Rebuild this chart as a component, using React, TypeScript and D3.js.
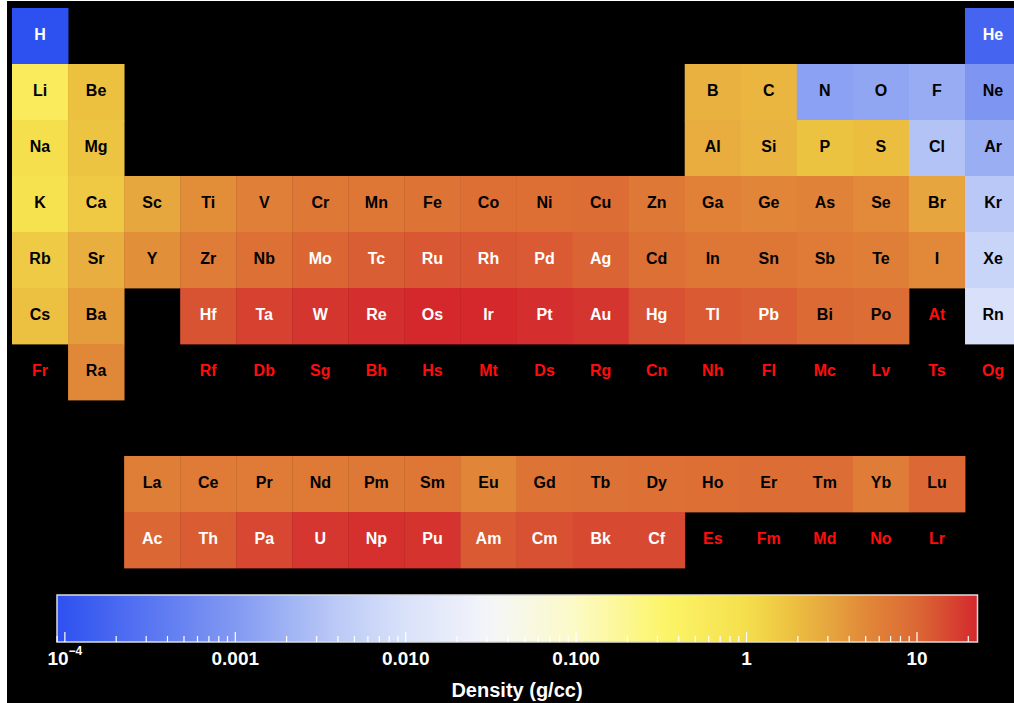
import React from "react";
import * as d3 from "d3";

// ---------- DATA ----------
const SYMBOLS = [
  "H","He","Li","Be","B","C","N","O","F","Ne","Na","Mg","Al","Si","P","S","Cl","Ar",
  "K","Ca","Sc","Ti","V","Cr","Mn","Fe","Co","Ni","Cu","Zn","Ga","Ge","As","Se","Br","Kr",
  "Rb","Sr","Y","Zr","Nb","Mo","Tc","Ru","Rh","Pd","Ag","Cd","In","Sn","Sb","Te","I","Xe",
  "Cs","Ba","La","Ce","Pr","Nd","Pm","Sm","Eu","Gd","Tb","Dy","Ho","Er","Tm","Yb","Lu",
  "Hf","Ta","W","Re","Os","Ir","Pt","Au","Hg","Tl","Pb","Bi","Po","At","Rn",
  "Fr","Ra","Ac","Th","Pa","U","Np","Pu","Am","Cm","Bk","Cf","Es","Fm","Md","No","Lr",
  "Rf","Db","Sg","Bh","Hs","Mt","Ds","Rg","Cn","Nh","Fl","Mc","Lv","Ts","Og",
];

// density in g/cc (null = unknown)
const DENSITIES: (number | null)[] = [
  0.0000899, 0.0001785, 0.535, 1.848, 2.46, 2.26, 0.001251, 0.001429, 0.001696, 0.0009,
  0.968, 1.738, 2.7, 2.33, 1.823, 1.96, 0.003214, 0.001784,
  0.856, 1.55, 2.985, 4.507, 6.11, 7.19, 7.47, 7.874, 8.9, 8.908, 8.96, 7.14, 5.904, 5.323, 5.727, 4.819, 3.12, 0.00375,
  1.532, 2.63, 4.472, 6.511, 8.57, 10.28, 11.5, 12.37, 12.45, 12.023, 10.49, 8.65, 7.31, 7.31, 6.697, 6.24, 4.94, 0.0059,
  1.879, 3.51, 6.146, 6.689, 6.64, 7.01, 7.264, 7.353, 5.244, 7.901, 8.219, 8.551, 8.795, 9.066, 9.321, 6.57, 9.841,
  13.31, 16.65, 19.25, 21.02, 22.61, 22.65, 21.09, 19.3, 13.534, 11.85, 11.34, 9.78, 9.196, null, 0.00973,
  null, 5.0, 10.07, 11.724, 15.37, 19.05, 20.45, 19.816, 12.0, 13.51, 14.78, 15.1, null, null, null, null, null,
  null, null, null, null, null, null, null, null, null, null, null, null, null, null, null,
];

const TICK_VALUES = [0.0001, 0.001, 0.01, 0.1, 1, 10];
const TICK_LABELS = ["10|−4", "0.001", "0.010", "0.100", "1", "10"];
const AXIS_TITLE = "Density (g/cc)";

// colour map stops (fraction of log range -> colour)
const CMAP_T = [0, 0.19, 0.3, 0.38, 0.47, 0.56, 0.66, 0.75, 0.8, 0.84, 0.88, 0.93, 0.96, 1];
const CMAP_C = [
  "rgb(45,80,240)", "rgb(128,152,242)", "rgb(185,200,246)", "rgb(218,226,250)",
  "rgb(245,246,250)", "rgb(252,250,200)", "rgb(252,245,105)", "rgb(245,222,75)",
  "rgb(236,192,64)", "rgb(230,165,62)", "rgb(225,135,56)", "rgb(220,108,53)",
  "rgb(216,80,50)", "rgb(212,40,45)",
];

// period / group of an element from its atomic number (rows 9, 10 = f-block)
function gridPos(z: number): [number, number] {
  if (z === 1) return [1, 1];
  if (z === 2) return [1, 18];
  if (z <= 4) return [2, z - 2];
  if (z <= 10) return [2, z + 8];
  if (z <= 12) return [3, z - 10];
  if (z <= 18) return [3, z];
  if (z <= 36) return [4, z - 18];
  if (z <= 54) return [5, z - 36];
  if (z <= 56) return [6, z - 54];
  if (z <= 71) return [9, z - 54];
  if (z <= 86) return [6, z - 68];
  if (z <= 88) return [7, z - 86];
  if (z <= 103) return [10, z - 86];
  return [7, z - 100];
}

export default function App() {
  const W = 1014, H = 703;
  const x0 = 12, y0 = 8, pw = 56.06, ph = 56;

  const known = DENSITIES.filter((d): d is number => d != null);
  const lmin = Math.log10(d3.min(known)!);
  const lmax = Math.log10(d3.max(known)!);

  const tScale = d3.scaleLinear().domain([lmin, lmax]).range([0, 1]);
  const cmap = d3.scaleLinear<string>().domain(CMAP_T).range(CMAP_C).interpolate(d3.interpolateRgb);
  const color = (d: number) => cmap(tScale(Math.log10(d)));

  const colX = d3.scaleLinear().domain([1, 19]).range([x0, x0 + 18 * pw]);
  const rowY = d3.scaleLinear().domain([1, 11]).range([y0, y0 + 10 * ph]);

  // colour bar
  const bx0 = 57, bx1 = 977.5, by0 = 595, by1 = 642;
  const barX = d3.scaleLog().domain([10 ** lmin, 10 ** lmax]).range([bx0, bx1]);
  const gradStops = d3.range(0, 1.0001, 0.02);
  const minorTicks: number[] = [];
  for (let k = -5; k <= 1; k++) for (let m = 2; m <= 9; m++) {
    const v = m * 10 ** k;
    if (v >= 10 ** lmin && v <= 10 ** lmax) minorTicks.push(v);
  }

  const font = "'Liberation Sans', Arial, Helvetica, sans-serif";

  return (
    <svg width={W} height={H} style={{ position: "absolute", left: 0, top: 0 }} fontFamily={font}>
      <defs>
        <linearGradient id="cbar" x1="0" x2="1" y1="0" y2="0">
          {gradStops.map((t, i) => (
            <stop key={i} offset={t} stopColor={cmap(t)} />
          ))}
        </linearGradient>
      </defs>
      <rect x={0} y={0} width={W} height={H} fill="#fff" />
      <rect x={7} y={1} width={W - 7} height={H - 1} fill="#000" />

      {SYMBOLS.map((sym, i) => {
        const z = i + 1;
        const [r, c] = gridPos(z);
        const d = DENSITIES[i];
        const x = colX(c), y = rowY(r);
        const w = colX(c + 1) - x, h = rowY(r + 1) - y;
        let tc = "#000";
        if (d == null) tc = "#ff0d0d";
        else if (d < 0.0005 || d >= 10) tc = "#fff";
        return (
          <g key={sym}>
            {d != null && <rect x={x} y={y} width={w + 0.4} height={h + 0.4} fill={color(d)} />}
            <text x={x + w / 2} y={y + h / 2 - 2} textAnchor="middle" dominantBaseline="central"
              fontSize={16} fontWeight="bold" fill={tc}>{sym}</text>
          </g>
        );
      })}

      {/* colour bar */}
      <rect x={bx0} y={by0} width={bx1 - bx0} height={by1 - by0} fill="url(#cbar)" stroke="#dcdcdc" strokeWidth={1.5} />
      {minorTicks.map((v, i) => (
        <line key={"m" + i} x1={barX(v)} x2={barX(v)} y1={by1} y2={by1 - 6} stroke="#fff" strokeWidth={1.2} />
      ))}
      {TICK_VALUES.map((v, i) => (
        <line key={"M" + i} x1={barX(v)} x2={barX(v)} y1={by1} y2={by1 - 10} stroke="#fff" strokeWidth={1.2} />
      ))}
      {TICK_VALUES.map((v, i) => {
        const lab = TICK_LABELS[i];
        const parts = lab.split("|");
        return (
          <text key={"L" + i} x={barX(v)} y={658} textAnchor="middle" dominantBaseline="central"
            fontSize={19} fontWeight="bold" fill="#fff">
            {parts[0]}
            {parts.length > 1 && (
              <tspan fontSize={12} dy={-7}>{parts[1]}</tspan>
            )}
          </text>
        );
      })}
      <text x={517} y={690} textAnchor="middle" dominantBaseline="central" fontSize={20} fontWeight="bold" fill="#fff">
        {AXIS_TITLE}
      </text>
    </svg>
  );
}
